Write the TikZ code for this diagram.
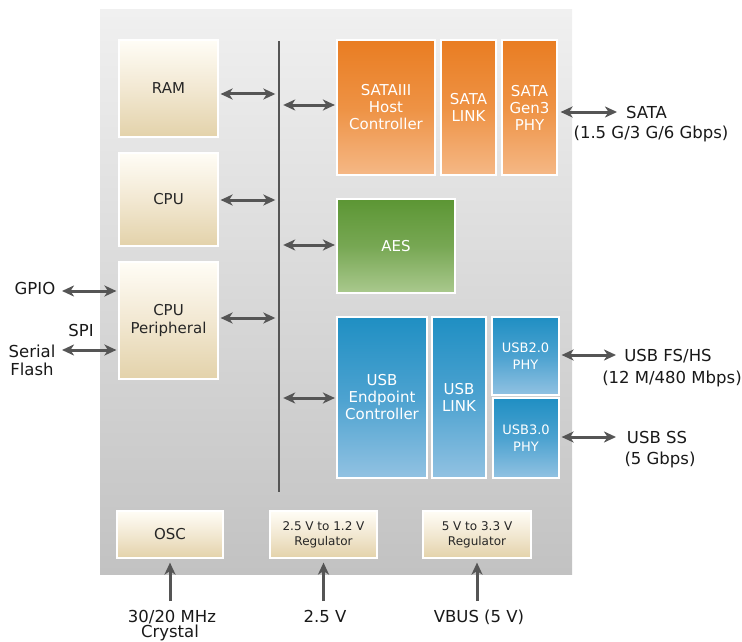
\documentclass[tikz,border=0pt]{standalone}
\usepackage{fontspec}
\setmainfont{DejaVu Sans}
\usetikzlibrary{arrows.meta,shadows}
\definecolor{arrowgray}{HTML}{555555}
\definecolor{beigeT}{HTML}{FFFDF6}
\definecolor{beigeM}{HTML}{F2E8D2}
\definecolor{beigeB}{HTML}{E3D2AA}
\definecolor{orangeT}{HTML}{E97D22}
\definecolor{orangeM}{HTML}{EE9244}
\definecolor{orangeB}{HTML}{F5B886}
\definecolor{greenT}{HTML}{5C9634}
\definecolor{greenM}{HTML}{77A753}
\definecolor{greenB}{HTML}{AAC98E}
\definecolor{blueT}{HTML}{1F8FC3}
\definecolor{blueM}{HTML}{4CA2D0}
\definecolor{blueB}{HTML}{92C2E2}
\definecolor{panelT}{HTML}{F0F0F0}
\definecolor{panelB}{HTML}{C2C2C2}
\tikzset{
  blk/.style={draw=white, line width=1.2pt, inner sep=0pt, align=center,
    drop shadow={shadow xshift=1.2pt, shadow yshift=-1.2pt, opacity=0.25}},
  beigebox/.style={blk, top color=beigeT, bottom color=beigeB, middle color=beigeM,
    text=black!85, font=\fontsize{15}{18}\selectfont},
  regbox/.style={beigebox, font=\fontsize{12}{15}\selectfont},
  orangebox/.style={blk, top color=orangeT, bottom color=orangeB, middle color=orangeM,
    text=white, font=\fontsize{15}{17}\selectfont},
  greenbox/.style={blk, top color=greenT, bottom color=greenB, middle color=greenM,
    text=white, font=\fontsize{15}{17}\selectfont},
  bluebox/.style={blk, top color=blueT, bottom color=blueB, middle color=blueM,
    text=white, font=\fontsize{15}{17}\selectfont},
  smallblue/.style={bluebox, font=\fontsize{13}{17}\selectfont},
  arr/.style={{Stealth[length=12pt,width=11pt,inset=3.5pt]}-{Stealth[length=12pt,width=11pt,inset=3.5pt]},
    line width=3pt, draw=arrowgray},
  uparr/.style={-{Stealth[length=12pt,width=11pt,inset=3.5pt]}, line width=3pt, draw=arrowgray},
  lbl/.style={inner sep=0pt, text=black!90, font=\fontsize{16.5}{19}\selectfont, anchor=base}
}
\begin{document}
\begin{tikzpicture}[x=1pt,y=-1pt]
\useasboundingbox (0,0) rectangle (742,642);
% panel
\shade[top color=panelT, bottom color=panelB] (100,10) rectangle (572,574);
% bus
\node[fill=arrowgray, minimum width=2pt, minimum height=451pt, inner sep=0pt] (bus) at (279,266.5) {};
% left blocks
\node[beigebox, minimum width=99pt, minimum height=97pt] (ram) at (168.5,88.5) {RAM};
\node[beigebox, minimum width=99pt, minimum height=93pt] (cpu) at (168.5,199.5) {CPU};
\node[beigebox, minimum width=99pt, minimum height=117pt] (cpup) at (168.5,320.5) {CPU\\Peripheral};
% SATA blocks
\node[orangebox, minimum width=98pt, minimum height=135pt] (sata) at (386,107.5) {SATAIII\\Host\\Controller};
\node[orangebox, minimum width=55pt, minimum height=135pt] (satalink) at (468.5,107.5) {SATA\\LINK};
\node[orangebox, minimum width=55pt, minimum height=135pt] (sataphy) at (529.5,107.5) {SATA\\Gen3\\PHY};
% AES
\node[greenbox, minimum width=118pt, minimum height=94pt] (aes) at (396,246) {AES};
% USB blocks
\node[bluebox, minimum width=90pt, minimum height=161pt] (usbep) at (382,397.5) {USB\\Endpoint\\Controller};
\node[bluebox, minimum width=54pt, minimum height=161pt] (usblink) at (459,397.5) {USB\\LINK};
\node[smallblue, minimum width=67pt, minimum height=78pt] (usb2) at (525.5,356) {USB2.0\\PHY};
\node[smallblue, minimum width=66pt, minimum height=80pt] (usb3) at (526,438) {USB3.0\\PHY};
% bottom blocks
\node[beigebox, minimum width=106pt, minimum height=47pt] (osc) at (170,534.5) {OSC};
\node[regbox, minimum width=107pt, minimum height=47pt] (reg1) at (323.5,534.5) {2.5 V to 1.2 V\\Regulator};
\node[regbox, minimum width=108pt, minimum height=47pt] (reg2) at (477,534.5) {5 V to 3.3 V\\Regulator};
% bus arrows
\draw[arr, shorten <=2pt, shorten >=2.5pt] (ram.east |- 0,94) -- (bus.west |- 0,94);
\draw[arr, shorten <=2pt, shorten >=2.5pt] (cpu.east |- 0,200) -- (bus.west |- 0,200);
\draw[arr, shorten <=2pt, shorten >=2.5pt] (cpup.east |- 0,318) -- (bus.west |- 0,318);
\draw[arr, shorten <=3pt, shorten >=1.5pt] (bus.east |- 0,105) -- (sata.west |- 0,105);
\draw[arr, shorten <=3pt, shorten >=1.5pt] (bus.east |- 0,245) -- (aes.west |- 0,245);
\draw[arr, shorten <=3pt, shorten >=1.5pt] (bus.east |- 0,398) -- (usbep.west |- 0,398);
% external connectors
\coordinate (sataend) at (617,112);
\coordinate (usb2end) at (616,355);
\coordinate (usb3end) at (616,437);
\coordinate (gpioend) at (62,291);
\coordinate (spiend) at (62,350);
\coordinate (xtal) at (170,601);
\coordinate (v25) at (323.5,601);
\coordinate (vbus) at (477,601);
\draw[arr, shorten <=3pt] (sataphy.east |- sataend) -- (sataend);
\draw[arr, shorten <=2pt] (usb2.east |- usb2end) -- (usb2end);
\draw[arr, shorten <=2pt] (usb3.east |- usb3end) -- (usb3end);
\draw[arr, shorten >=2pt] (gpioend) -- (cpup.west |- gpioend);
\draw[arr, shorten >=2pt] (spiend) -- (cpup.west |- spiend);
\draw[uparr, shorten >=4pt] (xtal) -- (osc.south);
\draw[uparr, shorten >=4pt] (v25) -- (reg1.south);
\draw[uparr, shorten >=4pt] (vbus) -- (reg2.south);
% labels
\node[lbl] (lsata1) at (646.5,118) {SATA};
\node[lbl] (lsata2) at (651,139) {(1.5 G/3 G/6 Gbps)};
\node[lbl] (lusb21) at (668,361) {USB FS/HS};
\node[lbl] (lusb22) at (672,383) {(12 M/480 Mbps)};
\node[lbl] (lusb31) at (657,443) {USB SS};
\node[lbl] (lusb32) at (660,464) {(5 Gbps)};
\node[lbl] (lgpio) at (35,294) {GPIO};
\node[lbl] (lspi) at (81,336) {SPI};
\node[lbl] (lser) at (32,357) {Serial};
\node[lbl] (lfl) at (32,375) {Flash};
\node[lbl] (lx1) at (172,622) {30/20 MHz};
\node[lbl] (lx2) at (170,637) {Crystal};
\node[lbl] (lv25) at (325,622) {2.5 V};
\node[lbl] (lvbus) at (479,622) {VBUS (5 V)};
\end{tikzpicture}
\end{document}
